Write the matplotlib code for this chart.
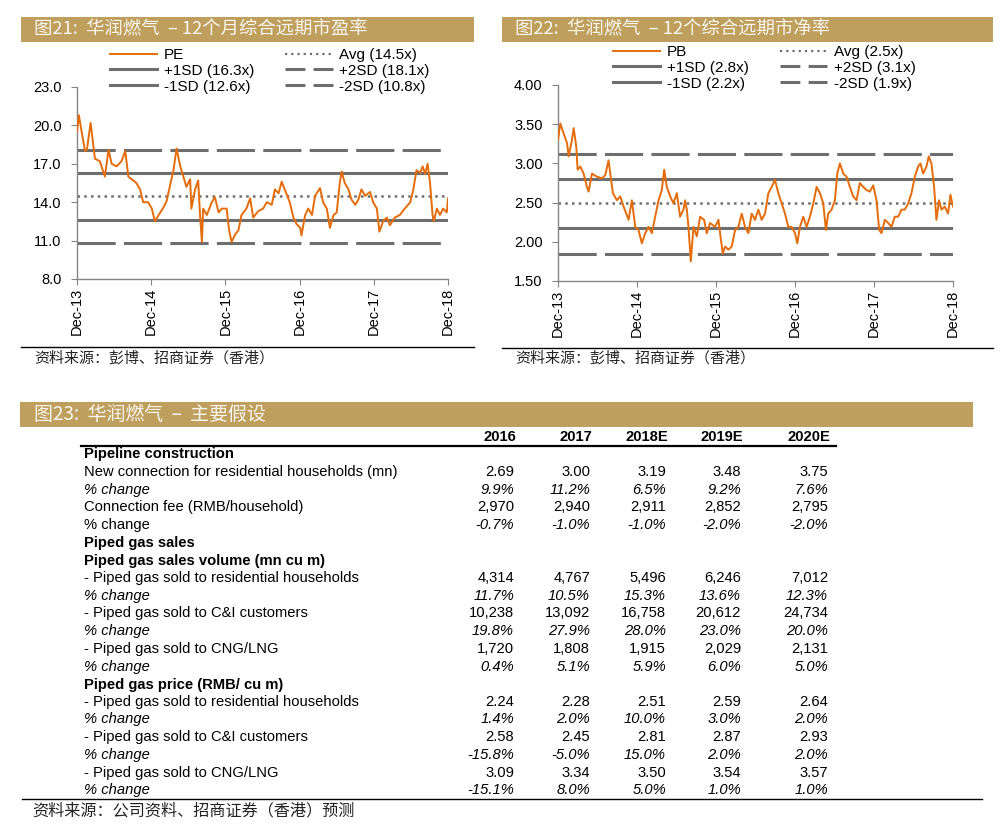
import matplotlib
matplotlib.use("Agg")
import matplotlib.pyplot as plt
from matplotlib.lines import Line2D
from matplotlib.patches import Rectangle
from matplotlib import font_manager

# ---------------- data ----------------
# months after Dec-13 and 12m forward P/E
pe_month = [0, 0.3, 0.75, 1.3, 1.6, 2.2, 2.9, 3.7, 4.5, 5.1, 5.6, 6.4, 7.2, 7.8, 8.3,
            9.1, 9.6, 10.2, 10.7, 11.5, 12.1, 12.6, 13.2, 14.0, 14.5, 15.0, 15.6, 16.1,
            16.7, 17.2, 17.7, 18.3, 18.5, 19.1, 19.6, 19.9, 20.2, 20.4, 21.0, 21.8, 22.3,
            22.9, 23.4, 24.2, 24.6, 25.0, 25.6, 26.1, 26.6, 27.4, 28.0, 28.5, 29.3, 30.1,
            30.7, 31.5, 32.0, 32.6, 33.1, 33.6, 34.4, 35.0, 35.5, 36.1, 36.3, 36.9, 37.4,
            38.0, 38.5, 39.3, 39.8, 40.4, 40.9, 41.5, 42.0, 42.5, 42.8, 43.3, 43.9, 44.4,
            45.0, 45.5, 46.0, 46.6, 47.4, 47.9, 48.5, 48.9, 49.5, 50.1, 50.6, 51.4, 52.2,
            53.0, 53.9, 54.4, 54.9, 55.5, 55.9, 56.3, 56.7, 57.1, 57.5, 57.7, 58.2, 58.7,
            59.2, 59.8, 60.0]
pe_value = [19.5, 20.8, 19.5, 18.0, 18.1, 20.2, 17.4, 17.2, 16.0, 18.1, 17.0, 16.8, 17.2,
            18.0, 16.0, 15.7, 15.5, 15.0, 14.0, 14.0, 13.5, 12.5, 13.0, 13.6, 14.1, 15.2,
            16.5, 18.2, 16.8, 16.0, 15.2, 15.8, 13.5, 15.0, 15.7, 13.0, 10.9, 13.5, 13.0,
            14.0, 14.4, 13.2, 13.5, 13.5, 11.8, 10.9, 11.5, 11.8, 13.0, 13.5, 14.3, 12.8,
            13.3, 13.5, 14.0, 13.8, 15.0, 14.7, 15.6, 15.0, 14.0, 12.8, 12.3, 12.0, 11.4,
            13.0, 13.5, 13.0, 14.5, 15.1, 14.0, 13.5, 12.0, 13.0, 13.2, 15.5, 16.4, 15.5,
            15.0, 14.2, 13.8, 14.2, 15.0, 14.5, 14.8, 14.0, 13.5, 11.7, 12.5, 12.8, 12.2,
            12.8, 13.0, 13.5, 14.0, 15.0, 16.5, 16.3, 16.8, 16.2, 17.0, 15.5, 13.0, 12.5,
            13.5, 13.0, 13.5, 13.2, 14.3]

# months after Dec-13 and 12m forward P/B
pb_month = [0, 0.35, 0.86, 1.37, 1.62, 2.12, 2.38, 2.78, 2.98, 3.39, 3.89, 4.40, 4.65,
            5.16, 5.92, 6.67, 7.18, 7.68, 7.94, 8.34, 8.95, 9.45, 9.96, 10.72, 11.22,
            11.73, 12.23, 12.74, 13.25, 13.75, 14.26, 14.76, 15.27, 15.77, 16.13, 16.53,
            17.04, 17.54, 18.05, 18.55, 19.06, 19.31, 19.57, 19.82, 20.17, 20.58, 21.08,
            21.59, 22.19, 22.60, 23.10, 23.86, 24.37, 24.62, 25.03, 25.38, 25.89, 26.39,
            26.90, 27.40, 27.91, 28.41, 28.92, 29.42, 29.93, 30.43, 30.94, 31.45, 31.95,
            32.46, 32.96, 33.47, 33.97, 34.48, 34.98, 35.49, 36.00, 36.35, 36.75, 37.26,
            37.77, 38.27, 38.78, 39.28, 39.79, 40.29, 40.70, 41.05, 41.56, 42.06, 42.42,
            42.82, 43.33, 43.83, 44.34, 44.84, 45.35, 45.85, 46.36, 46.87, 47.37, 47.88,
            48.38, 48.79, 49.14, 49.65, 50.15, 50.66, 51.16, 51.67, 52.17, 52.68, 53.19,
            53.69, 54.20, 54.70, 55.06, 55.46, 55.97, 56.32, 56.72, 57.13, 57.48, 57.89,
            58.24, 58.75, 59.25, 59.61, 60.0]
pb_value = [3.30, 3.51, 3.38, 3.26, 3.09, 3.30, 3.45, 3.21, 2.92, 2.96, 2.87, 2.70, 2.64,
            2.87, 2.83, 2.81, 2.85, 3.04, 2.87, 2.62, 2.53, 2.58, 2.45, 2.28, 2.53, 2.19,
            2.15, 1.98, 2.11, 2.19, 2.11, 2.32, 2.53, 2.66, 2.92, 2.70, 2.58, 2.49, 2.62,
            2.32, 2.41, 2.53, 2.41, 2.19, 1.75, 2.19, 2.07, 2.32, 2.28, 2.11, 2.24, 2.19,
            2.28, 2.11, 1.85, 1.94, 1.90, 1.94, 2.15, 2.19, 2.36, 2.19, 2.11, 2.36, 2.28,
            2.41, 2.28, 2.36, 2.62, 2.70, 2.79, 2.62, 2.49, 2.36, 2.19, 2.19, 2.11, 1.98,
            2.19, 2.32, 2.19, 2.32, 2.49, 2.70, 2.62, 2.49, 2.15, 2.36, 2.41, 2.53, 2.87,
            3.00, 2.87, 2.83, 2.70, 2.58, 2.53, 2.75, 2.70, 2.66, 2.64, 2.72, 2.53, 2.15,
            2.11, 2.28, 2.24, 2.19, 2.32, 2.32, 2.41, 2.41, 2.49, 2.62, 2.83, 2.96, 3.00,
            2.87, 2.96, 3.09, 3.00, 2.70, 2.28, 2.53, 2.41, 2.45, 2.36, 2.60, 2.45]

# avg, +1SD, +2SD, -1SD, -2SD
pe_bands = [14.5, 16.3, 18.1, 12.6, 10.8]
pe_band_text = ["Avg (14.5x)", "+1SD (16.3x)", "+2SD (18.1x)", "-1SD (12.6x)", "-2SD (10.8x)"]
pb_bands = [2.49, 2.80, 3.12, 2.17, 1.85]
pb_band_text = ["Avg (2.5x)", "+1SD (2.8x)", "+2SD (3.1x)", "-1SD (2.2x)", "-2SD (1.9x)"]

tick_months = [0, 12, 24, 36, 48, 60]
tick_labels = ["Dec-13", "Dec-14", "Dec-15", "Dec-16", "Dec-17", "Dec-18"]
pe_yticks = [8.0, 11.0, 14.0, 17.0, 20.0, 23.0]
pb_yticks = [1.5, 2.0, 2.5, 3.0, 3.5, 4.0]

years = ["2016", "2017", "2018E", "2019E", "2020E"]
row_labels = [
    "Pipeline construction",
    "New connection for residential households (mn)",
    "% change",
    "Connection fee (RMB/household)",
    "% change",
    "Piped gas sales",
    "Piped gas sales volume (mn cu m)",
    "- Piped gas sold to residential households",
    "% change",
    "- Piped gas sold to C&I customers",
    "% change",
    "- Piped gas sold to CNG/LNG",
    "% change",
    "Piped gas price (RMB/ cu m)",
    "- Piped gas sold to residential households",
    "% change",
    "- Piped gas sold to C&I customers",
    "% change",
    "- Piped gas sold to CNG/LNG",
    "% change",
]
row_values = [
    None,
    ["2.69", "3.00", "3.19", "3.48", "3.75"],
    ["9.9%", "11.2%", "6.5%", "9.2%", "7.6%"],
    ["2,970", "2,940", "2,911", "2,852", "2,795"],
    ["-0.7%", "-1.0%", "-1.0%", "-2.0%", "-2.0%"],
    None,
    None,
    ["4,314", "4,767", "5,496", "6,246", "7,012"],
    ["11.7%", "10.5%", "15.3%", "13.6%", "12.3%"],
    ["10,238", "13,092", "16,758", "20,612", "24,734"],
    ["19.8%", "27.9%", "28.0%", "23.0%", "20.0%"],
    ["1,720", "1,808", "1,915", "2,029", "2,131"],
    ["0.4%", "5.1%", "5.9%", "6.0%", "5.0%"],
    None,
    ["2.24", "2.28", "2.51", "2.59", "2.64"],
    ["1.4%", "2.0%", "10.0%", "3.0%", "2.0%"],
    ["2.58", "2.45", "2.81", "2.87", "2.93"],
    ["-15.8%", "-5.0%", "15.0%", "2.0%", "2.0%"],
    ["3.09", "3.34", "3.50", "3.54", "3.57"],
    ["-15.1%", "8.0%", "5.0%", "1.0%", "1.0%"],
]
# label style: b = bold, n = normal, i = italic
row_label_style = ["b", "n", "i", "n", "n", "b", "b", "n", "i", "n", "i", "n", "i",
                   "b", "n", "i", "n", "i", "n", "i"]

# ---------------- style ----------------
GOLD = "#BF9F5E"
ORANGE = "#E46C0A"
GREY = "#6E6E6E"
AXGREY = "#858585"
CJK = ["Noto Sans CJK SC", "DejaVu Sans"]
W, H = 1001, 834

names = {f.name for f in font_manager.fontManager.ttflist}
LATIN = "Liberation Sans" if "Liberation Sans" in names else "DejaVu Sans"
TABLE_FONT = LATIN

plt.rcParams["font.family"] = [LATIN, "DejaVu Sans"]


def fx(x):
    return x / W


def fy(y):
    return 1 - y / H


fig = plt.figure(figsize=(W / 100, H / 100), dpi=100)


def title_bar(x0, x1, y0, y1, text, tx, size=13.2):
    fig.add_artist(Rectangle((fx(x0), fy(y1)), fx(x1) - fx(x0), fy(y0) - fy(y1),
                             transform=fig.transFigure, color=GOLD, lw=0))
    fig.text(fx(tx), fy((y0 + y1) / 2), text, color="#FBF7EE", fontsize=size,
             family=CJK, va="center", ha="left")


def source_line(x0, x1, y, text, ty, tx, size=10.8):
    fig.add_artist(Line2D([fx(x0), fx(x1)], [fy(y), fy(y)], transform=fig.transFigure,
                          color="black", lw=1))
    fig.text(fx(tx), fy(ty), text, fontsize=size, family=CJK, va="center", ha="left",
             color="#222222")


def draw_valuation(ax, months, values, name, bands, band_text, yticks, fmt, leg_xy):
    ax.plot(months, values, color=ORANGE, lw=1.4, zorder=3)
    ax.axhline(bands[0], color=GREY, lw=1.8, ls=(0, (1, 1.7)), zorder=2)
    ax.axhline(bands[1], color=GREY, lw=2.2, zorder=2)
    ax.axhline(bands[2], color=GREY, lw=2.2, ls=(0, (12.5, 2.7)), zorder=2)
    ax.axhline(bands[3], color=GREY, lw=2.2, zorder=2)
    ax.axhline(bands[4], color=GREY, lw=2.2, ls=(0, (12.5, 2.7)), zorder=2)

    ax.set_xlim(0, 60)
    ax.set_ylim(yticks[0], yticks[-1])
    ax.set_xticks(tick_months)
    ax.set_xticklabels(tick_labels, rotation=90, fontsize=10.5)
    ax.set_yticks(yticks)
    ax.set_yticklabels([fmt % v for v in yticks], fontsize=10.5)
    for s in ["top", "right"]:
        ax.spines[s].set_visible(False)
    for s in ["left", "bottom"]:
        ax.spines[s].set_color(AXGREY)
        ax.spines[s].set_linewidth(1.0)
    ax.tick_params(axis="y", direction="out", length=4, color=AXGREY, pad=7)
    ax.tick_params(axis="x", direction="out", length=4, color=AXGREY, pad=2)

    handles = [
        Line2D([], [], color=ORANGE, lw=1.4),
        Line2D([], [], color=GREY, lw=2.2),
        Line2D([], [], color=GREY, lw=2.2),
        Line2D([], [], color=GREY, lw=1.6, ls=(0, (1, 1.8))),
        Line2D([], [], color=GREY, lw=2.2, ls=(0, (6.5, 2.7))),
        Line2D([], [], color=GREY, lw=2.2, ls=(0, (6.5, 2.7))),
    ]
    labels = [name, band_text[1], band_text[3], band_text[0], band_text[2], band_text[4]]
    fig.legend(handles, labels, ncol=2, loc="upper left",
               bbox_to_anchor=(fx(leg_xy[0]), fy(leg_xy[1])), bbox_transform=fig.transFigure,
               frameon=False, fontsize=11, handlelength=3.1, handletextpad=0.45,
               labelspacing=0.12, columnspacing=2.0, borderpad=0, borderaxespad=0)


# ---------------- chart 21 : P/E ----------------
title_bar(21, 474, 17, 42, "图21:  华润燃气  – 12个月综合远期市盈率", 34)
ax1 = fig.add_axes([fx(77), fy(279), fx(448) - fx(77), fy(87) - fy(279)])
draw_valuation(ax1, pe_month, pe_value, "PE", pe_bands, pe_band_text, pe_yticks, "%.1f",
               (110, 48))
source_line(21, 474, 347, "资料来源：彭博、招商证券（香港）", 358, 34)

# ---------------- chart 22 : P/B ----------------
title_bar(502, 993, 17, 42, "图22:  华润燃气  – 12个综合远期市净率", 515)
ax2 = fig.add_axes([fx(558), fy(281), fx(953) - fx(558), fy(85) - fy(281)])
draw_valuation(ax2, pb_month, pb_value, "PB", pb_bands, pb_band_text, pb_yticks, "%.2f",
               (613, 45))
source_line(502, 993, 348, "资料来源：彭博、招商证券（香港）", 358, 515)

# ---------------- table 23 ----------------
title_bar(20, 973, 402, 427, "图23:  华润燃气  –  主要假设", 34, size=13.6)

col_right = [514, 590, 666, 741, 828]
label_x = 84
header_y = 437
row_y = [454, 472, 490, 507, 525, 543, 561, 578, 596, 613, 631, 649, 667,
         685, 702, 719, 737, 755, 773, 790]
TFS = 10.6

for yr, xr in zip(years, col_right):
    fig.text(fx(xr + 2), fy(header_y), yr, family=TABLE_FONT, fontsize=TFS,
             fontweight="bold", ha="right", va="center")
fig.add_artist(Line2D([fx(81), fx(836)], [fy(446), fy(446)], transform=fig.transFigure,
                      color="black", lw=1.6))

for label, vals, style, y in zip(row_labels, row_values, row_label_style, row_y):
    fig.text(fx(label_x), fy(y), label, family=TABLE_FONT, fontsize=TFS,
             fontweight="bold" if style == "b" else "normal",
             fontstyle="italic" if style == "i" else "normal", ha="left", va="center")
    if vals is None:
        continue
    italic_vals = label == "% change"
    for v, xr in zip(vals, col_right):
        fig.text(fx(xr), fy(y), v, family=TABLE_FONT, fontsize=TFS,
                 fontstyle="italic" if italic_vals else "normal", ha="right", va="center")

source_line(22, 982, 799, "资料来源：公司资料、招商证券（香港）预测", 811, 32, size=11.6)

fig.savefig("out.png", dpi=100)
